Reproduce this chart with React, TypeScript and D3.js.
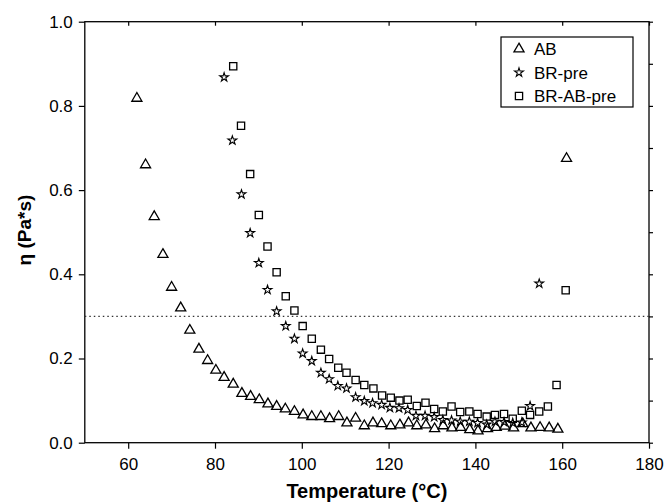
import * as d3 from "d3";
import React, { useRef, useEffect } from "react";

// temperature (°C) and viscosity (Pa*s)
const abT = [62, 64, 66, 68, 70, 72.1, 74.2, 76.3, 78.3, 80.2, 82.1, 84.2, 86.2, 88.2, 90.2, 92.2, 94.2, 96.2, 98.3, 100.3, 102.3, 104.4, 106.4, 108.5, 110.4, 112.4, 114.4, 116.4, 118.4, 120.5, 122.6, 124.6, 126.5, 128.6, 130.6, 132.6, 134.6, 136.6, 138.7, 140.6, 142.8, 144.8, 146.8, 148.8, 150.9, 152.8, 154.9, 157, 159, 161];
const abEta = [0.818, 0.66, 0.537, 0.447, 0.369, 0.32, 0.267, 0.222, 0.195, 0.172, 0.155, 0.139, 0.117, 0.11, 0.102, 0.092, 0.086, 0.08, 0.074, 0.066, 0.062, 0.062, 0.057, 0.062, 0.047, 0.058, 0.04, 0.047, 0.045, 0.04, 0.042, 0.047, 0.04, 0.042, 0.033, 0.04, 0.035, 0.036, 0.031, 0.028, 0.033, 0.036, 0.039, 0.035, 0.045, 0.035, 0.036, 0.035, 0.032, 0.675];

const brT = [82.1, 84, 86.1, 88.1, 90.1, 92.1, 94.2, 96.3, 98.3, 100.2, 102.3, 104.4, 106.3, 108.3, 110.3, 112.4, 114.4, 116.3, 118.4, 120.3, 122.4, 124.4, 126.3, 128.4, 130.5, 132.5, 134.5, 136.5, 138.6, 140.5, 142.6, 144.5, 146.6, 148.6, 150.7, 152.6, 154.7];
const brEta = [0.868, 0.718, 0.59, 0.498, 0.427, 0.363, 0.312, 0.277, 0.247, 0.212, 0.194, 0.166, 0.151, 0.135, 0.129, 0.108, 0.099, 0.094, 0.09, 0.083, 0.082, 0.078, 0.064, 0.064, 0.061, 0.054, 0.053, 0.05, 0.05, 0.047, 0.043, 0.05, 0.049, 0.047, 0.048, 0.087, 0.378];

const brabT = [84.2, 86, 88.1, 90.1, 92.1, 94.2, 96.3, 98.3, 100.2, 102.3, 104.4, 106.3, 108.4, 110.3, 112.4, 114.4, 116.5, 118.5, 120.5, 122.5, 124.4, 126.5, 128.5, 130.5, 132.5, 134.5, 136.5, 138.6, 140.5, 142.6, 144.5, 146.6, 148.6, 150.7, 152.6, 154.7, 156.7, 158.7, 160.8];
const brabEta = [0.894, 0.753, 0.638, 0.541, 0.466, 0.405, 0.348, 0.314, 0.277, 0.247, 0.221, 0.199, 0.178, 0.166, 0.149, 0.137, 0.129, 0.112, 0.107, 0.1, 0.102, 0.087, 0.095, 0.08, 0.074, 0.086, 0.073, 0.074, 0.068, 0.062, 0.066, 0.068, 0.057, 0.076, 0.066, 0.074, 0.086, 0.137, 0.362];

const seriesNames = ["AB", "BR-pre", "BR-AB-pre"];
const xTicks = [60, 80, 100, 120, 140, 160, 180];
const yTicks = [0.0, 0.2, 0.4, 0.6, 0.8, 1.0];
const threshold = 0.3;

const W = 665, H = 504;
const left = 84.8, right = 649, top = 21.7, bottom = 442.7;
const font = "'Liberation Sans', Arial, sans-serif";

function App() {
  const ref = useRef<SVGSVGElement>(null);

  useEffect(() => {
    const svg = d3.select(ref.current);
    svg.selectAll("*").remove();

    const x = d3.scaleLinear().domain([50, 180]).range([left, right]);
    const y = d3.scaleLinear().domain([0, 1]).range([bottom, top]);

    const shapes = [
      d3.symbol(d3.symbolTriangle, 44),
      d3.symbol(d3.symbolStar, 24),
      d3.symbol(d3.symbolSquare, 52),
    ];
    const sets = [
      abT.map((t, i) => [t, abEta[i]]),
      brT.map((t, i) => [t, brEta[i]]),
      brabT.map((t, i) => [t, brabEta[i]]),
    ];

    // frame
    svg.append("rect")
      .attr("x", left).attr("y", top)
      .attr("width", right - left).attr("height", bottom - top)
      .attr("fill", "none").attr("stroke", "#000").attr("stroke-width", 1.3);

    // bottom axis
    const gx = svg.append("g").attr("transform", `translate(0,${bottom})`);
    gx.call(d3.axisBottom(x).tickValues(d3.range(50, 181, 10)).tickSize(3).tickFormat(() => ""));
    gx.call(d3.axisBottom(x).tickValues(xTicks).tickSize(6).tickFormat(d3.format("d")));
    gx.selectAll(".domain").remove();
    gx.selectAll("text").attr("font-size", 17).attr("font-family", font).attr("fill", "#000").attr("dy", "1.05em");

    // left axis
    const gy = svg.append("g").attr("transform", `translate(${left},0)`);
    gy.call(d3.axisLeft(y).tickValues(d3.range(0, 1.01, 0.1)).tickSize(3).tickFormat(() => ""));
    gy.call(d3.axisLeft(y).tickValues(yTicks).tickSize(6).tickFormat(d3.format(".1f")));
    gy.selectAll(".domain").remove();
    gy.selectAll("text").attr("font-size", 17).attr("font-family", font).attr("fill", "#000").attr("x", -12);

    // mirror ticks, top and right
    svg.append("g").attr("transform", `translate(0,${top})`)
      .call(d3.axisTop(x).tickValues(xTicks).tickSize(-4).tickFormat(() => ""))
      .selectAll(".domain").remove();
    svg.append("g").attr("transform", `translate(${right},0)`)
      .call(d3.axisRight(y).tickValues(d3.range(0, 1.01, 0.1)).tickSize(4).tickFormat(() => ""))
      .selectAll(".domain").remove();
    svg.selectAll(".tick line").attr("stroke-width", 1.2);

    // dotted reference line
    svg.append("line")
      .attr("x1", left).attr("x2", right)
      .attr("y1", y(threshold)).attr("y2", y(threshold))
      .attr("stroke", "#333").attr("stroke-width", 1.2)
      .attr("stroke-dasharray", "1.5,3");

    // data points
    sets.forEach((pts, k) => {
      svg.append("g").selectAll("path")
        .data(pts)
        .enter()
        .append("path")
        .attr("d", shapes[k])
        .attr("transform", (d) => `translate(${x(d[0])},${y(d[1])})`)
        .attr("fill", "none")
        .attr("stroke", "#000")
        .attr("stroke-width", k === 1 ? 1.1 : 1.3)
        .attr("stroke-linejoin", "miter");
    });

    // axis titles
    svg.append("text")
      .attr("x", (left + right) / 2).attr("y", 498)
      .attr("text-anchor", "middle")
      .attr("font-family", font).attr("font-weight", "bold").attr("font-size", 20)
      .text("Temperature (°C)");

    svg.append("text")
      .attr("text-anchor", "middle")
      .attr("transform", "translate(31,230)rotate(-90)")
      .attr("font-family", font).attr("font-weight", "bold").attr("font-size", 19)
      .text("η (Pa*s)");

    // legend
    const lg = svg.append("g");
    lg.append("rect")
      .attr("x", 501).attr("y", 37).attr("width", 132).attr("height", 70)
      .attr("fill", "#fff").attr("stroke", "#000").attr("stroke-width", 1.2);
    seriesNames.forEach((name, k) => {
      const cy = 49 + k * 23.5;
      lg.append("path")
        .attr("d", shapes[k])
        .attr("transform", `translate(519,${cy})`)
        .attr("fill", "none").attr("stroke", "#000").attr("stroke-width", k === 1 ? 1.1 : 1.3);
      lg.append("text")
        .attr("x", 534).attr("y", cy).attr("dy", "0.36em")
        .attr("font-family", font).attr("font-size", 17)
        .text(name);
    });
  }, []);

  return (
    <div style={{ position: "absolute", left: 0, top: 0 }}>
      <svg ref={ref} width={W} height={H} style={{ display: "block", background: "#fff" }}></svg>
    </div>
  );
}

export default App;
